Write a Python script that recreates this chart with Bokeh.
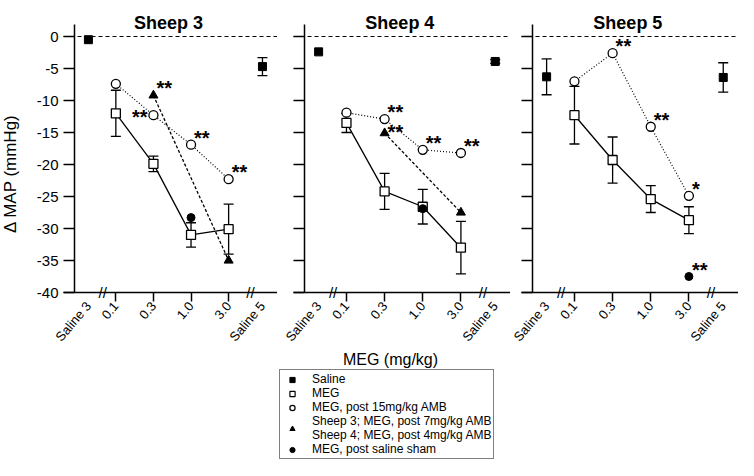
import math
from bokeh.plotting import figure
from bokeh.models import (ColumnDataSource, Whisker, TeeHead, Label, FixedTicker,
                          Legend, LegendItem, Range1d, LinearAxis)
from bokeh.layouts import row, column
from bokeh.embed import file_html
from bokeh.resources import INLINE
from bokeh.core.properties import value

# ---------------- data ----------------
PANELS = ["Sheep 3", "Sheep 4", "Sheep 5"]
X_LABELS = ["Saline 3", "0.1", "0.3", "1.0", "3.0", "Saline 5"]
DOSES = ["0.1", "0.3", "1.0", "3.0"]
SALINE_CATS = ["Saline 3", "Saline 5"]
Y_TICKS = [0, -5, -10, -15, -20, -25, -30, -35, -40]

s3_saline = [-0.5, -4.7]
s3_saline_err = [0.0, 1.4]
s4_saline = [-2.4, -3.9]
s4_saline_err = [0.0, 0.3]
s5_saline = [-6.3, -6.4]
s5_saline_err = [2.8, 2.3]

s3_meg = [-12.0, -19.9, -31.0, -30.1]
s3_meg_err = [3.6, 1.2, 1.9, 3.9]
s4_meg = [-13.5, -24.2, -26.6, -33.0]
s4_meg_err = [1.5, 2.8, 2.7, 4.1]
s5_meg = [-12.3, -19.3, -25.4, -28.7]
s5_meg_err = [4.5, 3.6, 2.1, 2.1]

s3_amb15 = [-7.4, -12.3, -16.9, -22.3]
s4_amb15 = [-11.9, -12.9, -17.7, -18.2]
s5_amb15 = [-7.0, -2.6, -14.1, -24.9]

s3_amb_low_doses = ["0.3", "3.0"]
s3_amb_low = [-9.2, -35.0]
s4_amb_low_doses = ["0.3", "3.0"]
s4_amb_low = [-15.1, -27.5]
s5_amb_low_doses = []
s5_amb_low = []

s3_sham_doses = ["1.0"]
s3_sham = [-28.3]
s4_sham_doses = ["1.0"]
s4_sham = [-26.9]
s5_sham_doses = ["3.0"]
s5_sham = [-37.5]

# significance marks: (series, dose, mark)
s3_sig = [("amb15", "0.3", "**"), ("amb_low", "0.3", "**"),
          ("amb15", "1.0", "**"), ("amb15", "3.0", "**")]
s4_sig = [("amb15", "0.3", "**"), ("amb_low", "0.3", "**"),
          ("amb15", "1.0", "**"), ("amb15", "3.0", "**")]
s5_sig = [("amb15", "0.3", "**"), ("amb15", "1.0", "**"),
          ("amb15", "3.0", "*"), ("sham", "3.0", "**")]

LEGEND_LABELS = ["Saline", "MEG", "MEG, post 15mg/kg AMB",
                 "Sheep 3; MEG, post 7mg/kg AMB\nSheep 4; MEG, post 4mg/kg AMB",
                 "MEG, post saline sham"]
X_TITLE = "MEG (mg/kg)"
Y_TITLE = "\u0394 MAP (mmHg)"

# ---------------- layout / style ----------------
XPOS = {"Saline 3": 0.27, "0.1": 1.0, "0.3": 2.0, "1.0": 3.0, "3.0": 4.0, "Saline 5": 4.9}
BREAKS = [0.65, 4.58]
X_AXIS_AT = -0.1      # where the y axis sits on the x scale
X_END = 5.3
ROW_H = 350
PX_PER_UNIT = 6.4
Y_HI = 36 / PX_PER_UNIT                   # value 0 sits 36px below the top
Y_LO = -40 - (ROW_H - 292) / PX_PER_UNIT  # value -40 sits at 292px
AXIS_TOP = 1.9
Y_TICK_LEN = 11
FONT = "Liberation Sans"
STAR_SIDE = {("Sheep 3", "amb15", "0.3"): "left", ("Sheep 4", "amb_low", "0.3"): "low"}


def make_panel(name, saline, saline_err, meg, meg_err, amb15, amb_low_doses, amb_low,
               sham_doses, sham, sig, width, axis_px, first):
    scale = (width - axis_px) / (X_END - X_AXIS_AT)
    x_start = X_AXIS_AT - axis_px / scale
    tick_x = X_AXIS_AT - Y_TICK_LEN / scale

    p = figure(width=width, height=ROW_H,
               x_range=Range1d(x_start, X_END), y_range=Range1d(Y_LO, Y_HI),
               output_backend="svg", toolbar_location=None,
               x_axis_location=None, y_axis_location=None, min_border=0)
    p.outline_line_color = None
    p.xgrid.visible = False
    p.ygrid.visible = False
    p.background_fill_color = "white"

    # x axis (fixed at the -40 baseline, inside the frame)
    xa = LinearAxis(fixed_location=-40, bounds=(tick_x, X_END))
    xa.ticker = FixedTicker(ticks=[XPOS[c] for c in X_LABELS],
                            minor_ticks=[XPOS[d] for d in DOSES])
    xa.major_label_overrides = {XPOS[c]: c for c in X_LABELS}
    xa.major_tick_line_color = None
    xa.major_tick_out = 9
    xa.major_tick_in = 0
    xa.minor_tick_line_color = "black"
    xa.minor_tick_line_width = 1.5
    xa.minor_tick_out = 9
    xa.minor_tick_in = 0
    xa.axis_line_width = 1.5
    xa.axis_line_color = "black"
    xa.major_label_orientation = 0.87
    xa.major_label_standoff = 2
    xa.major_label_text_font = FONT
    xa.major_label_text_font_size = "13px"
    xa.major_label_text_color = "black"
    p.add_layout(xa, "below")

    # y axis (fixed inside the frame)
    ya = LinearAxis(fixed_location=X_AXIS_AT, bounds=(-40, AXIS_TOP))
    ya.ticker = FixedTicker(ticks=Y_TICKS, minor_ticks=[])
    if first:
        ya.major_label_overrides = {t: str(t) for t in Y_TICKS}
    else:
        ya.major_label_overrides = {t: "" for t in Y_TICKS}
    ya.major_tick_out = Y_TICK_LEN
    ya.major_tick_in = 0
    ya.major_tick_line_width = 1.5
    ya.major_tick_line_color = "black"
    ya.minor_tick_line_color = None
    ya.axis_line_width = 1.5
    ya.axis_line_color = "black"
    ya.major_label_standoff = 5
    ya.major_label_text_font = FONT
    ya.major_label_text_font_size = "15px"
    ya.major_label_text_color = "black"
    p.add_layout(ya, "left")

    # zero reference line
    p.segment(x0=[tick_x], y0=[0], x1=[X_END], y1=[0], line_color="black",
              line_width=1, line_dash="4 3", level="underlay")

    # axis breaks
    for b in BREAKS:
        p.add_layout(Label(x=b, y=-40, text="//", text_align="center",
                           text_baseline="middle", text_font=FONT,
                           text_font_size="15px", text_color="black"))

    dx = [XPOS[d] for d in DOSES]
    sx = [XPOS[c] for c in SALINE_CATS]

    def add_err(xs, ys, es):
        xs2 = [x for x, e in zip(xs, es) if e > 0]
        up = [y + e for y, e in zip(ys, es) if e > 0]
        lo = [y - e for y, e in zip(ys, es) if e > 0]
        if not xs2:
            return
        src = ColumnDataSource(dict(base=xs2, upper=up, lower=lo))
        p.add_layout(Whisker(source=src, base="base", upper="upper", lower="lower",
                             dimension="height", line_color="black", line_width=1.3,
                             level="underlay",
                             upper_head=TeeHead(size=10, line_color="black", line_width=1.3),
                             lower_head=TeeHead(size=10, line_color="black", line_width=1.3)))

    add_err(sx, saline, saline_err)
    add_err(dx, meg, meg_err)

    # lines
    p.line(dx, meg, line_color="black", line_width=1.3)
    p.line(dx, amb15, line_color="black", line_width=1.2, line_dash="1 2")
    if amb_low:
        p.line([XPOS[d] for d in amb_low_doses], amb_low, line_color="black",
               line_width=1.3, line_dash="3 2")

    # markers
    p.scatter(sx, saline, marker="square", size=8, fill_color="black", line_color="black")
    p.scatter(dx, meg, marker="square", size=9, fill_color="white", line_color="black",
              line_width=1.3)
    p.scatter(dx, amb15, marker="circle", size=9, fill_color="white", line_color="black",
              line_width=1.3)
    if amb_low:
        p.scatter([XPOS[d] for d in amb_low_doses], amb_low, marker="triangle", size=9,
                  fill_color="black", line_color="black")
    p.scatter([XPOS[d] for d in sham_doses], sham, marker="circle", size=8,
              fill_color="black", line_color="black")

    # significance marks
    series = {"amb15": (DOSES, amb15), "amb_low": (amb_low_doses, amb_low),
              "sham": (sham_doses, sham)}
    tx, ty, tt, ta, ox, oy = [], [], [], [], [], []
    for ser, dose, mark in sig:
        ds, vs = series[ser]
        yv = vs[ds.index(dose)]
        side = STAR_SIDE.get((name, ser, dose), "right")
        tx.append(XPOS[dose])
        ty.append(yv)
        tt.append(mark)
        if side == "left":
            ta.append("right"); ox.append(-6); oy.append(2)
        elif side == "low":
            ta.append("left"); ox.append(3); oy.append(-1)
        else:
            ta.append("left"); ox.append(3); oy.append(-7)
    ssrc = ColumnDataSource(dict(x=tx, y=ty, text=tt, align=ta, ox=ox, oy=oy))
    p.text(x="x", y="y", text="text", source=ssrc, text_align="align",
           x_offset="ox", y_offset="oy", text_baseline="alphabetic",
           text_font=value(FONT), text_font_style="bold", text_font_size="20px",
           text_color="black")

    # panel title
    p.add_layout(Label(x=2.4, y=AXIS_TOP, y_offset=1, text=name, text_align="center",
                       text_baseline="alphabetic", text_font=FONT,
                       text_font_style="bold", text_font_size="18px", text_color="black"))
    return p


# y-axis title strip
py = figure(width=20, height=ROW_H, x_range=Range1d(0, 20), y_range=Range1d(0, ROW_H),
            output_backend="svg", toolbar_location=None, min_border=0,
            x_axis_location=None, y_axis_location=None)
py.outline_line_color = None
py.xgrid.visible = False
py.ygrid.visible = False
py.add_layout(Label(x=10, y=ROW_H - 173, text=Y_TITLE, angle=math.pi / 2,
                    text_align="center", text_baseline="middle",
                    text_font=FONT, text_font_size="17px", text_color="black"))

p1 = make_panel(PANELS[0], s3_saline, s3_saline_err, s3_meg, s3_meg_err, s3_amb15,
                s3_amb_low_doses, s3_amb_low, s3_sham_doses, s3_sham, s3_sig, 257, 54, True)
p2 = make_panel(PANELS[1], s4_saline, s4_saline_err, s4_meg, s4_meg_err, s4_amb15,
                s4_amb_low_doses, s4_amb_low, s4_sham_doses, s4_sham, s4_sig, 233, 27, False)
p3 = make_panel(PANELS[2], s5_saline, s5_saline_err, s5_meg, s5_meg_err, s5_amb15,
                s5_amb_low_doses, s5_amb_low, s5_sham_doses, s5_sham, s5_sig, 228, 22, False)

# bottom strip: x-axis title + legend
BOT_H = 110
pl = figure(width=738, height=BOT_H, x_range=Range1d(0, 738), y_range=Range1d(0, BOT_H),
            output_backend="svg", toolbar_location=None, min_border=0,
            x_axis_location=None, y_axis_location=None)
pl.xgrid.visible = False
pl.ygrid.visible = False
pl.outline_line_color = None
pl.add_layout(Label(x=390, y=BOT_H - 9, text=X_TITLE, text_align="center",
                    text_baseline="middle", text_font=FONT, text_font_size="16px",
                    text_color="black"))
nan = float("nan")
r_sal = pl.scatter([nan], [nan], marker="square", fill_color="black", line_color="black")
r_meg = pl.scatter([nan], [nan], marker="square", fill_color="white", line_color="black",
                   line_width=1.2)
r_amb = pl.scatter([nan], [nan], marker="circle", fill_color="white", line_color="black",
                   line_width=1.2)
r_low = pl.scatter([nan], [nan], marker="triangle", fill_color="black", line_color="black")
r_sham = pl.scatter([nan], [nan], marker="circle", fill_color="black", line_color="black")
items = [LegendItem(label=lab, renderers=[r])
         for lab, r in zip(LEGEND_LABELS, [r_sal, r_meg, r_amb, r_low, r_sham])]
legend = Legend(items=items, location=(279, 1), border_line_color="black",
                border_line_width=1, background_fill_color="white", background_fill_alpha=1,
                label_text_font=FONT, label_text_font_size="12px", label_text_color="black",
                label_text_line_height=1.0,
                padding=2, spacing=0, margin=0, glyph_height=13, glyph_width=20,
                label_height=13, label_standoff=10)
pl.add_layout(legend)

layout = column(row(py, p1, p2, p3), pl)
open("out.html", "w").write(file_html(layout, INLINE))
